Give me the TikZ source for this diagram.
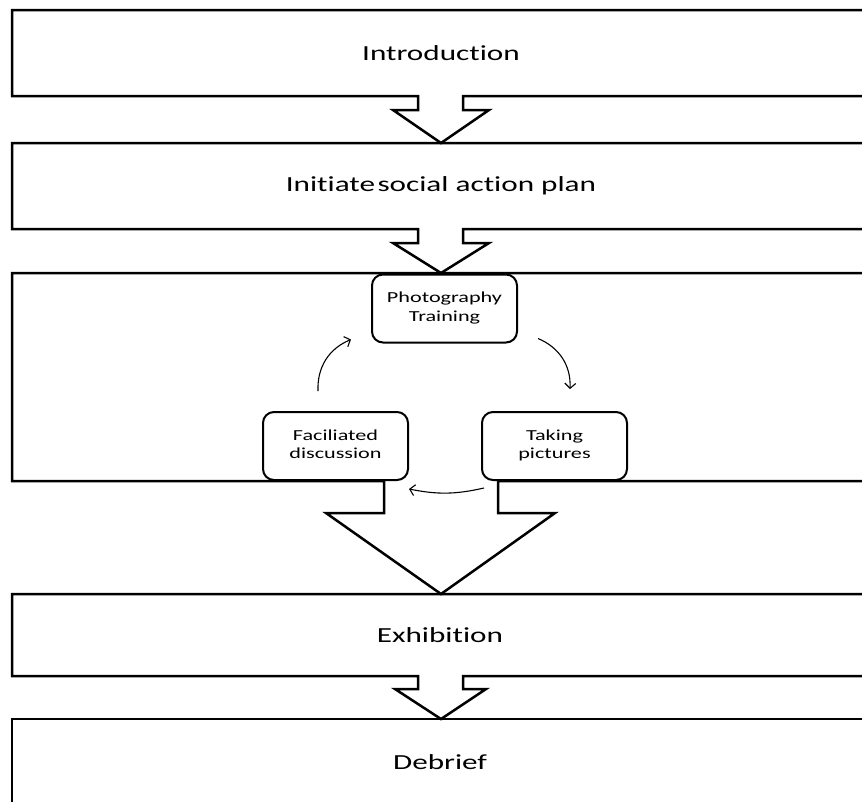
\documentclass[tikz,border=0pt]{standalone}
\usepackage{fontspec}
\setmainfont{Carlito}[Ligatures={NoCommon,NoContextual}]
\usepackage{graphicx}
\usetikzlibrary{arrows.meta}
% text is set wide, as in the original layout
\newcommand\widetext[1]{\scalebox{1.45}[1]{#1}}
\tikzset{
  frame/.style={draw=black, line width=2.5pt, line join=miter},
  steplabel/.style={font=\fontsize{21.5}{26}\selectfont, inner sep=0pt},
  roundbox/.style={draw=black, line width=2pt, rounded corners=11pt, fill=white,
    minimum width=145pt, minimum height=68pt, inner sep=0pt,
    font=\fontsize{15.3}{18.5}\selectfont},
  cyclearrow/.style={draw=black, line width=1.1pt,
    -{Straight Barb[length=5pt,width=11pt]}}
}
\begin{document}
\begin{tikzpicture}[x=1pt,y=1pt]
  \useasboundingbox (0,0) rectangle (862,-801);
  \fill[white] (0,0) rectangle (862,-801);
  \clip (0,0) rectangle (862,-801);

  % stage boxes, each with its block arrow pointing to the next one
  \path[frame] (12,-10) -- (880,-10) -- (880,-96) -- (463,-96) -- (463,-110)
    -- (489,-110) -- (441,-143) -- (393,-110) -- (418,-110) -- (418,-96)
    -- (12,-96) -- cycle;
  \path[frame] (12,-143) -- (880,-143) -- (880,-229) -- (463,-229) -- (463,-243)
    -- (489,-243) -- (441,-273) -- (393,-243) -- (418,-243) -- (418,-229)
    -- (12,-229) -- cycle;
  \path[frame] (12,-273) -- (880,-273) -- (880,-481) -- (498,-481) -- (498,-513)
    -- (555,-513) -- (441,-594) -- (326,-513) -- (384,-513) -- (384,-481)
    -- (12,-481) -- cycle;
  \path[frame] (12,-594) -- (880,-594) -- (880,-676) -- (463,-676) -- (463,-689)
    -- (486,-689) -- (441,-719) -- (395,-689) -- (418,-689) -- (418,-676)
    -- (12,-676) -- cycle;
  \path[frame] (12,-830) -- (12,-719) -- (880,-719) -- (880,-830);

  % stage titles
  \node[steplabel] (intro)   at (441,-53)  {\widetext{Introduction}};
  \node[steplabel] (plan)    at (441,-186) {\widetext{Initiate\hspace{0.08em}social action plan}};
  \node[steplabel] (exhib)   at (440,-635) {\widetext{Exhibition}};
  \node[steplabel] (debrief) at (440,-762) {\widetext{Debrief}};

  % the photovoice cycle
  \node[roundbox] (photo) at (444.5,-308.5)
    {\widetext{\begin{tabular}{@{}c@{}}Photography\\Training\end{tabular}}};
  \node[roundbox] (fac) at (335.5,-446)
    {\widetext{\begin{tabular}{@{}c@{}}Faciliated\\discussion\end{tabular}}};
  \node[roundbox] (take) at (554.5,-446)
    {\widetext{\begin{tabular}{@{}c@{}}Taking\\pictures\end{tabular}}};

  \draw[cyclearrow] ([xshift=-17.5pt,yshift=20pt]fac.north)
    to[bend left=35] ([xshift=-20pt,yshift=4pt]photo.south west);
  \draw[cyclearrow] ([xshift=20pt,yshift=5pt]photo.south east)
    to[bend left=35] ([xshift=15.5pt,yshift=22pt]take.north);
  \draw[cyclearrow] ([xshift=3pt,yshift=-7pt]take.south west)
    to[bend left=12] ([yshift=-8pt]fac.south east);
\end{tikzpicture}
\end{document}
